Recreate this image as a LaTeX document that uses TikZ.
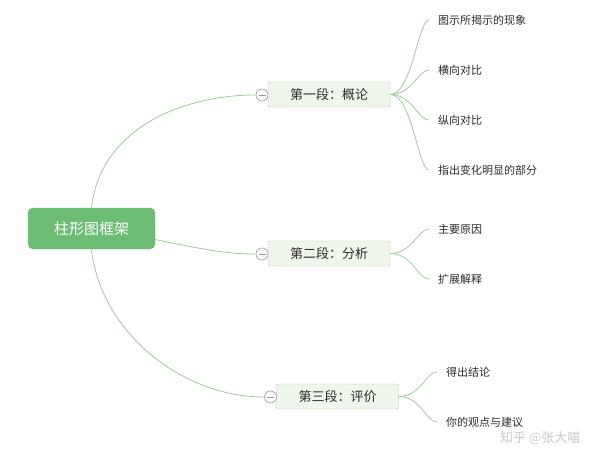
\documentclass[tikz,border=0pt]{standalone}
\usepackage{fontspec}
\setmainfont{Noto Sans CJK SC}
\usetikzlibrary{calc}
\definecolor{rootgreen}{HTML}{6DBD74}
\definecolor{subfill}{HTML}{EFF6EC}
\definecolor{subdraw}{HTML}{A9CFA3}
\definecolor{linkc}{HTML}{9FCB9A}
\definecolor{txt}{HTML}{2B2B2B}
\tikzset{
  rootbox/.style={draw=rootgreen, fill=rootgreen, rounded corners=5pt, minimum width=127pt, minimum height=41pt, inner sep=0pt, text=white, font=\fontsize{15}{15}\selectfont},
  subbox/.style={draw=subdraw, fill=subfill, rounded corners=2pt, minimum width=122pt, minimum height=25pt, inner sep=0pt, text=txt, font=\fontsize{13}{13}\selectfont},
  leaf/.style={anchor=west, inner sep=0pt, text=txt, font=\fontsize{11}{11}\selectfont},
  fold/.style={circle, draw=gray!80, fill=white, minimum size=12pt, inner sep=0pt, line width=0.6pt},
  link/.style={draw=linkc, line width=0.8pt},
}
\begin{document}
\begin{tikzpicture}[x=1pt,y=-1pt]
\useasboundingbox[fill=white] (0,0) rectangle (600,450);
% root
\node[rootbox] (root) at (91.5,228.5) {柱形图框架};
% level 1
\node[subbox] (s1) at (329,94.5) {第一段：概论};
\node[subbox] (s2) at (329,253.5) {第二段：分析};
\node[subbox] (s3) at (337.5,396.5) {第三段：评价};
% fold circles
\node[fold] (f1) at (262,95) {};
\node[fold] (f2) at (262,254) {};
\node[fold] (f3) at (270.5,397) {};
\foreach \f in {f1,f2,f3}{\draw[gray!80, line width=0.6pt] ([xshift=-3.5pt]\f.center) -- ([xshift=3.5pt]\f.center);}
% leaves
\node[leaf] (a1) at (438,20) {图示所揭示的现象};
\node[leaf] (a2) at (438,70) {横向对比};
\node[leaf] (a3) at (438,120) {纵向对比};
\node[leaf] (a4) at (438,170) {指出变化明显的部分};
\node[leaf] (b1) at (438,229) {主要原因};
\node[leaf] (b2) at (438,279) {扩展解释};
\node[leaf] (c1) at (446,372) {得出结论};
\node[leaf] (c2) at (446,422) {你的观点与建议};
% root links
\draw[link] (root.north) .. controls (100,130) and (180,95) .. (f1.west);
\draw[link] ([yshift=-11pt]root.east) .. controls (210,251) and (230,254) .. (f2.west);
\draw[link] (root.south) .. controls (100,330) and (180,397) .. (f3.west);
% sub links
\foreach \l in {a1,a2,a3,a4}{
  \draw[link] (s1.east) .. controls ++(22,0) and ($(\l.west)+(-20,0)$) .. ($(\l.west)+(-9,0)$);
}
\foreach \l in {b1,b2}{
  \draw[link] (s2.east) .. controls ++(22,0) and ($(\l.west)+(-20,0)$) .. ($(\l.west)+(-9,0)$);
}
\foreach \l in {c1,c2}{
  \draw[link] (s3.east) .. controls ++(22,0) and ($(\l.west)+(-20,0)$) .. ($(\l.west)+(-9,0)$);
}
% watermark
\node[anchor=west, inner sep=0pt, text=gray!55, opacity=0.75, font=\fontsize{13}{13}\selectfont] (wm) at (500,438) {知乎 @张大喵};
\end{tikzpicture}
\end{document}
